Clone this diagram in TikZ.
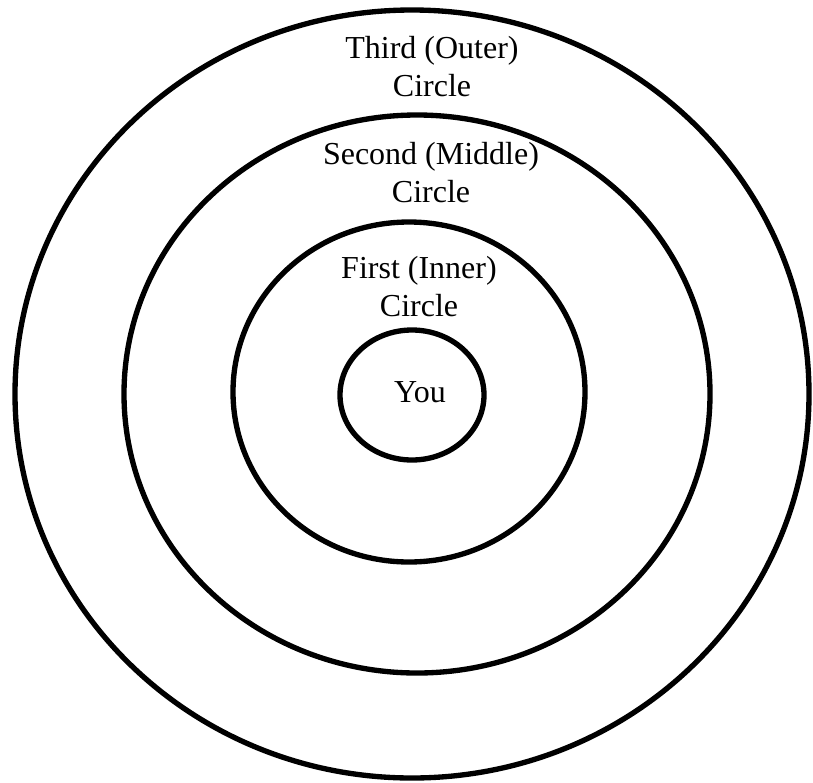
\documentclass[tikz,border=0pt]{standalone}
\usepackage{fontspec}
\setmainfont{Liberation Serif}
\usepackage{tikz}
\tikzset{
  ring/.style={draw, line width=4pt},
  lbl/.style={align=center, inner sep=0pt, font=\fontsize{24}{28.5}\selectfont}
}

\begin{document}
\begin{tikzpicture}[x=0.75pt, y=-0.75pt]
  \useasboundingbox (0,0) rectangle (813,782);
  % rings, outer to inner
  \draw[ring] (412,394) ellipse [x radius=397, y radius=384];
  \draw[ring] (417,394) ellipse [x radius=293, y radius=279];
  \draw[ring] (409,392) ellipse [x radius=176, y radius=170];
  \draw[ring] (412,395) ellipse [x radius=72, y radius=65];
  % labels
  \node[lbl] (third) at (432,67) {Third (Outer)\\Circle};
  \node[lbl] (second) at (431,173) {Second (Middle)\\Circle};
  \node[lbl] (first) at (419,287) {First (Inner)\\Circle};
  \node[lbl] (you) at (420,392) {You};
\end{tikzpicture}
\end{document}
